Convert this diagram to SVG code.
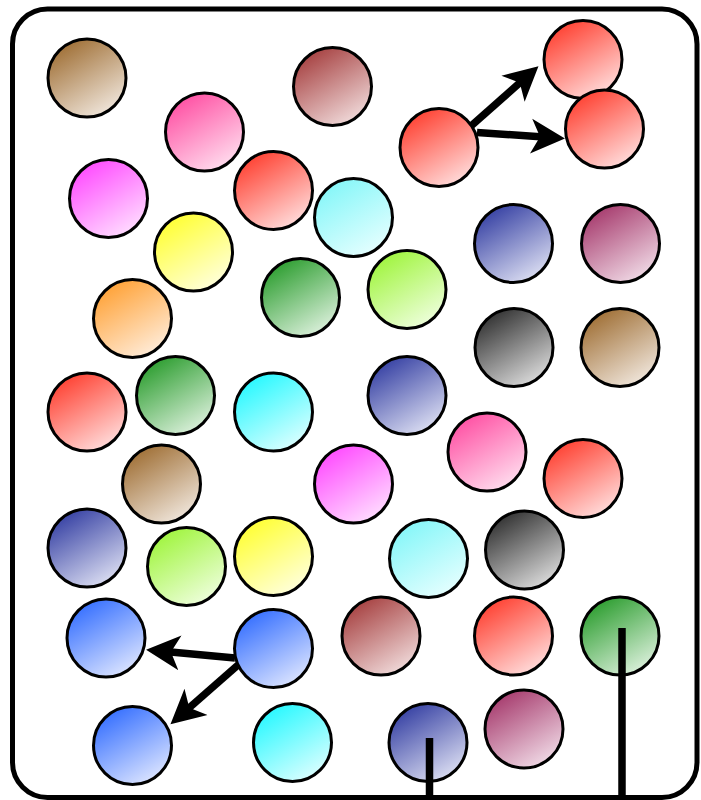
<svg xmlns="http://www.w3.org/2000/svg" width="701" height="800" viewBox="0 0 701 800">
<style>
.n{stroke:#000;stroke-width:3}
.c{stroke:#000;stroke-width:7.5;fill:none}
.v{stroke:#000;stroke-width:7.5;fill:none}
</style>
<defs>
<marker id="ah" markerUnits="userSpaceOnUse" markerWidth="44" markerHeight="44" viewBox="0 -22 44 44" refX="20" refY="0" orient="auto">
<path d="M0,-17.5 L34,0 L0,17.5 L9,0 Z" fill="#000"/>
</marker>
<linearGradient id="gBrown" x1="0.2" y1="0" x2="0.8" y2="1"><stop offset="0" stop-color="#9c6a2e"/><stop offset="1" stop-color="#f4ece4"/></linearGradient>
<linearGradient id="gPink" x1="0.2" y1="0" x2="0.8" y2="1"><stop offset="0" stop-color="#ff4aa0"/><stop offset="1" stop-color="#ffe4f2"/></linearGradient>
<linearGradient id="gMaroon" x1="0.2" y1="0" x2="0.8" y2="1"><stop offset="0" stop-color="#a33a3a"/><stop offset="1" stop-color="#f4e2e2"/></linearGradient>
<linearGradient id="gRed" x1="0.2" y1="0" x2="0.8" y2="1"><stop offset="0" stop-color="#ff3a2a"/><stop offset="1" stop-color="#ffe4e4"/></linearGradient>
<linearGradient id="gMagenta" x1="0.2" y1="0" x2="0.8" y2="1"><stop offset="0" stop-color="#ff44ff"/><stop offset="1" stop-color="#ffe4ff"/></linearGradient>
<linearGradient id="gLCyan" x1="0.2" y1="0" x2="0.8" y2="1"><stop offset="0" stop-color="#80f6f8"/><stop offset="1" stop-color="#eaffff"/></linearGradient>
<linearGradient id="gYellow" x1="0.2" y1="0" x2="0.8" y2="1"><stop offset="0" stop-color="#ffff2a"/><stop offset="1" stop-color="#ffffe4"/></linearGradient>
<linearGradient id="gNavy" x1="0.2" y1="0" x2="0.8" y2="1"><stop offset="0" stop-color="#2f3aa0"/><stop offset="1" stop-color="#e4e6f6"/></linearGradient>
<linearGradient id="gPlum" x1="0.2" y1="0" x2="0.8" y2="1"><stop offset="0" stop-color="#a33468"/><stop offset="1" stop-color="#f4e2ec"/></linearGradient>
<linearGradient id="gGreen" x1="0.2" y1="0" x2="0.8" y2="1"><stop offset="0" stop-color="#259a28"/><stop offset="1" stop-color="#e4f4e4"/></linearGradient>
<linearGradient id="gLime" x1="0.2" y1="0" x2="0.8" y2="1"><stop offset="0" stop-color="#9cf436"/><stop offset="1" stop-color="#f2ffe4"/></linearGradient>
<linearGradient id="gOrange" x1="0.2" y1="0" x2="0.8" y2="1"><stop offset="0" stop-color="#ff9e2e"/><stop offset="1" stop-color="#fff0e2"/></linearGradient>
<linearGradient id="gBlack" x1="0.2" y1="0" x2="0.8" y2="1"><stop offset="0" stop-color="#2a2a2a"/><stop offset="1" stop-color="#e4e4e4"/></linearGradient>
<linearGradient id="gCyan" x1="0.2" y1="0" x2="0.8" y2="1"><stop offset="0" stop-color="#1ef8ff"/><stop offset="1" stop-color="#e4ffff"/></linearGradient>
<linearGradient id="gBlue" x1="0.2" y1="0" x2="0.8" y2="1"><stop offset="0" stop-color="#2e6aff"/><stop offset="1" stop-color="#e4eaff"/></linearGradient>
</defs>
<rect x="0" y="0" width="701" height="800" fill="#fff"/>
<rect id="frame" x="12.5" y="9" width="684.5" height="788.5" rx="35" ry="35" fill="#fff" stroke="#000" stroke-width="5"/>
<g id="nodes">
<g id="n1"><circle class="n" cx="87" cy="78" r="39" fill="url(#gBrown)"/></g>
<g id="n2"><circle class="n" cx="204.5" cy="132" r="39" fill="url(#gPink)"/></g>
<g id="n3"><circle class="n" cx="332.5" cy="86.5" r="39" fill="url(#gMaroon)"/></g>
<g id="n4"><circle class="n" cx="439" cy="147.5" r="39" fill="url(#gRed)"/></g>
<g id="n5"><circle class="n" cx="583" cy="59.5" r="39" fill="url(#gRed)"/></g>
<g id="n6"><circle class="n" cx="604.5" cy="129" r="39" fill="url(#gRed)"/></g>
<g id="n7"><circle class="n" cx="108.5" cy="198.5" r="39" fill="url(#gMagenta)"/></g>
<g id="n8"><circle class="n" cx="273.5" cy="190.5" r="39" fill="url(#gRed)"/></g>
<g id="n9"><circle class="n" cx="353.5" cy="217.5" r="39" fill="url(#gLCyan)"/></g>
<g id="n10"><circle class="n" cx="193.5" cy="252" r="39" fill="url(#gYellow)"/></g>
<g id="n11"><circle class="n" cx="513.5" cy="243.5" r="39" fill="url(#gNavy)"/></g>
<g id="n12"><circle class="n" cx="620.5" cy="243.5" r="39" fill="url(#gPlum)"/></g>
<g id="n13"><circle class="n" cx="300.5" cy="297.5" r="39" fill="url(#gGreen)"/></g>
<g id="n14"><circle class="n" cx="407" cy="289.5" r="39" fill="url(#gLime)"/></g>
<g id="n15"><circle class="n" cx="132.5" cy="318.5" r="39" fill="url(#gOrange)"/></g>
<g id="n16"><circle class="n" cx="514" cy="347.5" r="39" fill="url(#gBlack)"/></g>
<g id="n17"><circle class="n" cx="620" cy="347.5" r="39" fill="url(#gBrown)"/></g>
<g id="n18"><circle class="n" cx="87" cy="412" r="39" fill="url(#gRed)"/></g>
<g id="n19"><circle class="n" cx="175.5" cy="395.5" r="39" fill="url(#gGreen)"/></g>
<g id="n20"><circle class="n" cx="273.5" cy="412" r="39" fill="url(#gCyan)"/></g>
<g id="n21"><circle class="n" cx="407" cy="395.5" r="39" fill="url(#gNavy)"/></g>
<g id="n22"><circle class="n" cx="487" cy="452" r="39" fill="url(#gPink)"/></g>
<g id="n23"><circle class="n" cx="583" cy="478.5" r="39" fill="url(#gRed)"/></g>
<g id="n24"><circle class="n" cx="161.5" cy="484" r="39" fill="url(#gBrown)"/></g>
<g id="n25"><circle class="n" cx="353.5" cy="484" r="39" fill="url(#gMagenta)"/></g>
<g id="n26"><circle class="n" cx="87" cy="548" r="39" fill="url(#gNavy)"/></g>
<g id="n27"><circle class="n" cx="186.5" cy="566.5" r="39" fill="url(#gLime)"/></g>
<g id="n28"><circle class="n" cx="273.5" cy="556.5" r="39" fill="url(#gYellow)"/></g>
<g id="n29"><circle class="n" cx="428.5" cy="558.5" r="39" fill="url(#gLCyan)"/></g>
<g id="n30"><circle class="n" cx="524.5" cy="550" r="39" fill="url(#gBlack)"/></g>
<g id="n31"><circle class="n" cx="106" cy="638" r="39" fill="url(#gBlue)"/></g>
<g id="n32"><circle class="n" cx="273.5" cy="648.5" r="39" fill="url(#gBlue)"/></g>
<g id="n33"><circle class="n" cx="381" cy="636" r="39" fill="url(#gMaroon)"/></g>
<g id="n34"><circle class="n" cx="513.5" cy="636" r="39" fill="url(#gRed)"/></g>
<g id="n35"><circle class="n" cx="620" cy="636" r="39" fill="url(#gGreen)"/></g>
<g id="n36"><circle class="n" cx="132.5" cy="745.5" r="39" fill="url(#gBlue)"/></g>
<g id="n37"><circle class="n" cx="292.5" cy="742.5" r="39" fill="url(#gCyan)"/></g>
<g id="n38"><circle class="n" cx="428" cy="742.5" r="39" fill="url(#gNavy)"/></g>
<g id="n39"><circle class="n" cx="524" cy="729" r="39" fill="url(#gPlum)"/></g>
</g>
<g id="connectors">
<line class="c" x1="471" y1="126" x2="528" y2="75.5" marker-end="url(#ah)"/>
<line class="c" x1="477" y1="132.5" x2="551" y2="137.5" marker-end="url(#ah)"/>
<line class="c" x1="235" y1="658" x2="160" y2="651.1" marker-end="url(#ah)"/>
<line class="c" x1="238" y1="665" x2="181" y2="715" marker-end="url(#ah)"/>
<line class="v" x1="429.5" y1="738" x2="429.5" y2="800"/>
<line class="v" x1="622" y1="628" x2="622" y2="800"/>
</g>
</svg>
